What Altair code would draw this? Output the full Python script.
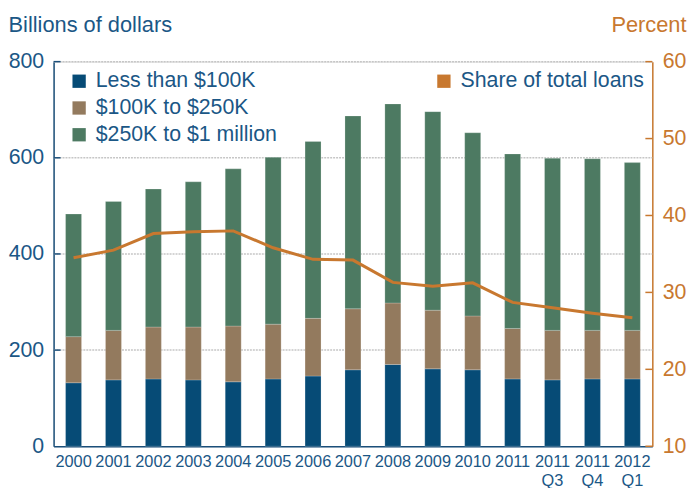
import altair as alt
import pandas as pd

# ---- data ----
periods = ["2000", "2001", "2002", "2003", "2004", "2005", "2006", "2007",
           "2008", "2009", "2010", "2011", "2011\nQ3", "2011\nQ4", "2012\nQ1"]
series_names = ["Less than $100K", "$100K to $250K", "$250K to $1 million"]
less_100k = [132, 138, 140, 138, 134, 140, 146, 159, 170, 161, 159, 140, 138, 140, 140]
k100_250 = [96, 103, 108, 110, 116, 114, 120, 127, 128, 122, 112, 105, 103, 101, 101]
k250_1m = [255, 268, 287, 302, 327, 347, 368, 401, 414, 413, 381, 363, 358, 357, 349]
share_pct = [34.5, 35.5, 37.65, 37.9, 38.0, 35.8, 34.3, 34.2, 31.3, 30.8, 31.25,
             28.7, 28.0, 27.3, 26.7]
grid_values = [200, 400, 600, 800]
left_ticks = [200, 400, 600, 800]
right_ticks = [10, 20, 30, 40, 50, 60]
left_labels = [0, 200, 400, 600, 800]

# ---- styling ----
FONT = "Liberation Sans, Arial, sans-serif"
BLUE_TXT = "#1B5786"
AX_BLUE = "#1B4F7A"
ORANGE = "#C8782F"
bar_colors = ["#064B76", "#937A5E", "#4D7A62"]

rows = []
for i, p in enumerate(periods):
    for k, (name, vals) in enumerate(zip(series_names, [less_100k, k100_250, k250_1m])):
        rows.append({"period": p, "series": name, "value": vals[i], "order": k})
bars_df = pd.DataFrame(rows)
line_df = pd.DataFrame({"period": periods, "share": share_pct,
                        "series": ["Share of total loans"] * len(periods)})
grid_df = pd.DataFrame({"value": grid_values})
lt_df = pd.DataFrame({"value": left_ticks})
rt_df = pd.DataFrame({"share": right_ticks})

x_enc = alt.X("period:N", sort=periods,
              scale=alt.Scale(paddingInner=0.6, paddingOuter=0.3),
              axis=alt.Axis(title=None, labelAngle=0, labelFontSize=16.5,
                            labelColor=BLUE_TXT, labelFont=FONT, tickSize=0,
                            labelPadding=7, labelLineHeight=20,
                            labelExpr="split(datum.label, '\\n')",
                            domainColor=AX_BLUE, domainWidth=1.5,
                            grid=False))

left_scale = alt.Scale(domain=[0, 800], nice=False)
right_scale = alt.Scale(domain=[10, 60], nice=False)

left_axis = alt.Axis(title="Billions of dollars", values=left_labels, orient="left",
                     titleAngle=0, titleX=-46, titleY=-37, titleAlign="left",
                     titleBaseline="middle", titleFontSize=22, titleFont=FONT,
                     titleFontWeight="normal", titleColor=BLUE_TXT,
                     labelFontSize=21.5, labelFont=FONT, labelColor=BLUE_TXT,
                     labelPadding=10, tickSize=0,
                     domainColor=AX_BLUE, domainWidth=1.5, grid=False)

right_axis = alt.Axis(title="Percent", orient="right", values=right_ticks,
                      titleAngle=0, titleX=34, titleY=-37, titleAlign="right",
                      titleBaseline="middle", titleFontSize=22, titleFont=FONT,
                      titleFontWeight="normal", titleColor=ORANGE,
                      labelFontSize=21.5, labelFont=FONT, labelColor=ORANGE,
                      labelPadding=10, tickSize=0,
                      domainColor=ORANGE, domainWidth=1.5, grid=False)

grid = alt.Chart(grid_df).mark_rule(color="#c6c6c6", strokeWidth=1.5,
                                    strokeDash=[2, 1]).encode(
    y=alt.Y("value:Q", scale=left_scale, axis=left_axis),
    x=alt.value(0), x2=alt.value(604),
)

bars = alt.Chart(bars_df).mark_bar(stroke="white", strokeWidth=0.6, strokeOpacity=0.35).encode(
    x=x_enc,
    y=alt.Y("value:Q", stack="zero", scale=left_scale, axis=left_axis),
    color=alt.Color("series:N", sort=series_names,
                    scale=alt.Scale(domain=series_names, range=bar_colors),
                    legend=alt.Legend(title=None, orient="none", legendX=15, legendY=9,
                                      direction="vertical", symbolType="square",
                                      symbolSize=180, symbolStrokeWidth=0,
                                      labelFontSize=21.5, labelFont=FONT,
                                      labelColor=BLUE_TXT, rowPadding=4,
                                      labelOffset=6, padding=0, labelLimit=400)),
    order=alt.Order("order:Q"),
)

lticks = alt.Chart(lt_df).mark_rule(color=AX_BLUE, strokeWidth=1.5).encode(
    y=alt.Y("value:Q", scale=left_scale, axis=left_axis),
    x=alt.value(0), x2=alt.value(7),
)

line = alt.Chart(line_df).mark_line(strokeWidth=3).encode(
    x=alt.X("period:N", sort=periods),
    y=alt.Y("share:Q", scale=right_scale, axis=right_axis),
    color=alt.Color("series:N",
                    scale=alt.Scale(domain=["Share of total loans"], range=[ORANGE]),
                    legend=alt.Legend(title=None, orient="none", legendX=383, legendY=9,
                                      symbolType="square", symbolSize=180,
                                      symbolFillColor=ORANGE, symbolStrokeWidth=0,
                                      labelFontSize=21.5, labelFont=FONT,
                                      labelColor=BLUE_TXT, labelOffset=6, padding=0,
                                      labelLimit=400)),
)

rticks = alt.Chart(rt_df).mark_rule(color=ORANGE, strokeWidth=1.5).encode(
    y=alt.Y("share:Q", scale=right_scale, axis=right_axis),
    x=alt.value(597), x2=alt.value(604),
)

left = alt.layer(grid, bars, lticks)
right = alt.layer(line, rticks)

chart = alt.layer(left, right).resolve_scale(
    y="independent", color="independent"
).properties(
    width=604, height=388,
    padding={"left": 46, "top": 52, "right": 36, "bottom": 40},
    autosize=alt.AutoSizeParams(type="none"),
).configure_view(stroke=None).configure(font=FONT)

chart.save("out.html", embed_options={"renderer": "svg", "actions": False})
